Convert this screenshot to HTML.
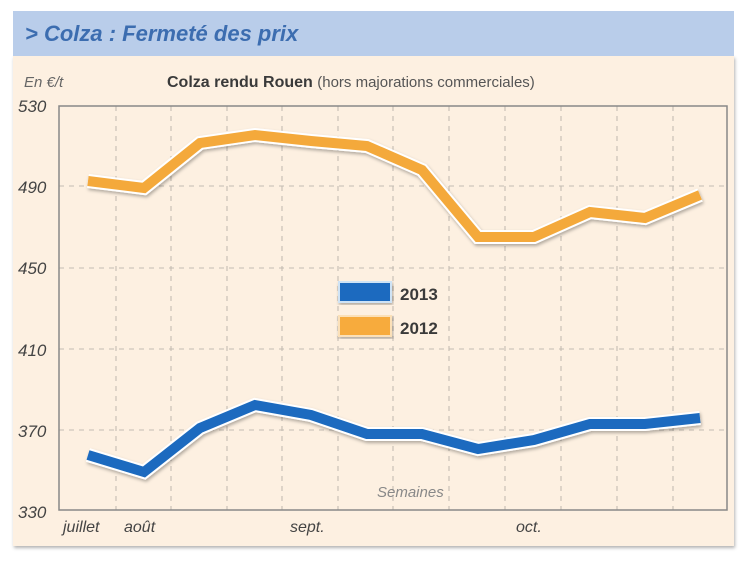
<!DOCTYPE html>
<html><head><meta charset="utf-8"><style>
body{margin:0;width:747px;height:560px;background:#fff;overflow:hidden;font-family:"Liberation Sans",sans-serif}
</style></head><body>
<svg width="747" height="560" xmlns="http://www.w3.org/2000/svg">
<defs><filter id="sh" x="-5%" y="-5%" width="110%" height="120%"><feDropShadow dx="1" dy="2" stdDeviation="1.5" flood-color="#000" flood-opacity="0.3"/></filter></defs>
<rect x="13" y="56" width="721" height="490" fill="#fdf0e1" filter="url(#sh)"/>
<rect x="13" y="11" width="721" height="45" fill="#b9cdea"/>
<text x="25" y="41" font-size="22" font-weight="bold" font-style="italic" fill="#3c6db0">&gt; Colza : Fermeté des prix</text>
<text x="24" y="87" font-size="15" font-style="italic" fill="#666">En €/t</text>
<text x="167" y="87" font-size="16" font-weight="bold" fill="#3a3a3a">Colza rendu Rouen <tspan font-weight="normal" font-size="15" fill="#555">(hors majorations commerciales)</tspan></text>
<g stroke="#c4bcb2" stroke-width="1.1" stroke-dasharray="5,5" fill="none">
<line x1="59" y1="186" x2="727" y2="186"/><line x1="59" y1="268" x2="727" y2="268"/><line x1="59" y1="349" x2="727" y2="349"/><line x1="59" y1="430" x2="727" y2="430"/>
<line x1="116" y1="106" x2="116" y2="510"/><line x1="171" y1="106" x2="171" y2="510"/><line x1="227" y1="106" x2="227" y2="510"/><line x1="282" y1="106" x2="282" y2="510"/><line x1="338" y1="106" x2="338" y2="510"/><line x1="393" y1="106" x2="393" y2="510"/><line x1="449" y1="106" x2="449" y2="510"/><line x1="505" y1="106" x2="505" y2="510"/><line x1="561" y1="106" x2="561" y2="510"/><line x1="617" y1="106" x2="617" y2="510"/><line x1="673" y1="106" x2="673" y2="510"/>
</g>
<rect x="59" y="106" width="668" height="404" fill="none" stroke="#888" stroke-width="1.5"/>
<g font-size="17" font-style="italic" fill="#444">
<text x="18" y="112">530</text><text x="18" y="193">490</text><text x="18" y="274">450</text><text x="18" y="356">410</text><text x="18" y="437">370</text><text x="18" y="518">330</text>
</g>
<g font-size="16" font-style="italic" fill="#444">
<text x="63" y="532">juillet</text><text x="124" y="532">août</text><text x="290" y="532">sept.</text><text x="516" y="532">oct.</text>
</g>
<text x="377" y="497" font-size="15" font-style="italic" fill="#888">Semaines</text>
<g fill="none" stroke-linejoin="miter" filter="url(#sh)">
<polyline points="88,181 144,188 200,143 255,135 311,141 367,146 422,170 478,237 534,237 590,212 645,218 700,195" stroke="#fff" stroke-width="14"/>
<polyline points="88,181 144,188 200,143 255,135 311,141 367,146 422,170 478,237 534,237 590,212 645,218 700,195" stroke="#f4a93a" stroke-width="10"/>
<polyline points="88,455 144,472 200,428 255,405 311,415 367,434 422,434 478,449 534,440 590,424 645,424 700,418" stroke="#fff" stroke-width="14"/>
<polyline points="88,455 144,472 200,428 255,405 311,415 367,434 422,434 478,449 534,440 590,424 645,424 700,418" stroke="#1a6bbf" stroke-width="10"/>
</g>
<rect x="339" y="282" width="52" height="20" fill="#1a6bbf" stroke="#cfe3f5" stroke-width="2" filter="url(#sh)"/>
<rect x="339" y="316" width="52" height="20" fill="#f7ab3c" stroke="#fbe0b8" stroke-width="2" filter="url(#sh)"/>
<text x="400" y="300" font-size="17" font-weight="bold" fill="#3a3a3a">2013</text>
<text x="400" y="334" font-size="17" font-weight="bold" fill="#3a3a3a">2012</text>
</svg>
</body></html>
